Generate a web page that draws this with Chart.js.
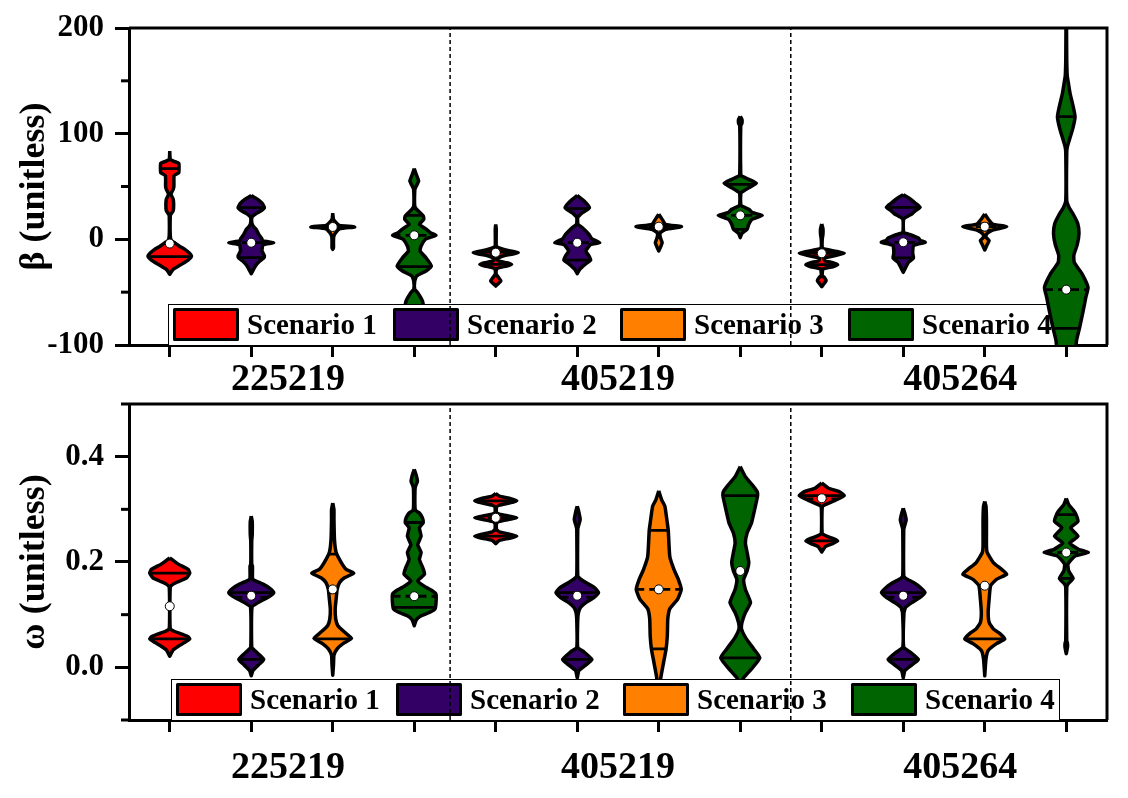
<!DOCTYPE html>
<html>
<head>
<meta charset="utf-8">
<script src="https://cdn.jsdelivr.net/npm/chart.js@4.4.0/dist/chart.umd.min.js"></script>
<style>
html,body{margin:0;padding:0;background:#fff;}
#wrap{position:relative;width:1128px;height:798px;background:#fff;}
canvas{position:absolute;left:0;display:block;}
</style>
</head>
<body>
<div id="wrap">
<canvas id="betaChart" width="1128" height="399" style="top:0;width:1128px;height:399px"></canvas>
<canvas id="omegaChart" width="1128" height="399" style="top:399px;width:1128px;height:399px"></canvas>
</div>
<script>
// ---------------- DATA ----------------
const CATEGORIES = ['225219', '405219', '405264'];
const SCENARIOS = ['Scenario 1', 'Scenario 2', 'Scenario 3', 'Scenario 4'];
const CATEGORY_LABEL_AT = [2.45, 6.5, 10.7];   // x-axis value of each group label
const SEPARATORS_AT = [4.44, 8.62];           // x-axis value of dashed group separators

const BETA_MAJOR_TICKS = [-100, 0, 100, 200];
const BETA_MINOR_TICKS = [-50, 50, 150];
const OMEGA_MAJOR_TICKS = [0.0, 0.2, 0.4];
const OMEGA_MINOR_TICKS = [-0.1, 0.1, 0.3, 0.5];

// Violin density profiles: [value, relative density], top -> bottom; one profile per category
const BETA_S1 = [
  [[83.5,0],[76,0.02],[74,0.15],[72,0.37],[67,0.38],[63,0.37],[60.4,0.18],[50,0.17],[47.3,0.14],[42.6,0.05],[38,0.14],[33,0.16],[27,0.14],[23.5,0.04],[22,0.02],[4,0.02],[-1,0.06],[-3.2,0.2],[-6.5,0.4],[-9.5,0.62],[-13,0.8],[-16,0.89],[-19.6,0.75],[-23.7,0.47],[-28.4,0.14],[-33,0]],
  [[14.2,0],[10,0.02],[-6.3,0.02],[-7.9,0.1],[-10.1,0.4],[-11.4,0.7],[-12.6,0.92],[-13.9,0.7],[-15.1,0.4],[-17,0.15],[-18.9,0.05],[-20.5,0.12],[-22.2,0.45],[-23.7,0.65],[-25.2,0.45],[-27,0.12],[-28.4,0.03],[-33.1,0.02],[-36.3,0.12],[-39.4,0.21],[-42,0.1],[-44.2,0]],
  [[14.5,0],[10,0.05],[5,0.05],[0,0.02],[-7.6,0.02],[-9.1,0.1],[-11.4,0.6],[-13.2,0.92],[-15.1,0.6],[-17.6,0.1],[-20.2,0.12],[-22.1,0.45],[-24,0.65],[-25.9,0.45],[-28.1,0.05],[-34.4,0.02],[-36,0.1],[-39.1,0.18],[-42.3,0.08],[-44.8,0]]
];
const BETA_S2 = [
  [[41.6,0],[38,0.25],[34,0.45],[30,0.54],[27,0.4],[24.6,0.21],[21,0.03],[15,0.03],[12,0.1],[9.5,0.2],[5,0.3],[1,0.42],[-1.5,0.48],[-3.2,0.92],[-5,0.48],[-8,0.45],[-11,0.44],[-15.8,0.54],[-18,0.5],[-20.5,0.35],[-25.2,0.17],[-32.5,0]],
  [[41.6,0],[36.3,0.28],[30,0.5],[25.2,0.21],[20.5,0.02],[14.2,0.03],[11,0.21],[4.7,0.48],[0.5,0.6],[-3.2,0.92],[-5,0.55],[-11,0.35],[-15.8,0.48],[-19.6,0.55],[-23.7,0.32],[-28.4,0.1],[-32.5,0]],
  [[42.3,0],[38.2,0.28],[34.1,0.5],[30.3,0.69],[27.1,0.5],[24,0.35],[19.2,0.02],[6.6,0.02],[5,0.21],[1.2,0.62],[-1,0.7],[-2.8,0.9],[-4.5,0.6],[-6,0.42],[-10.1,0.39],[-13.9,0.39],[-17.6,0.42],[-21.8,0.21],[-26.5,0.1],[-31.2,0]]
];
const BETA_S3 = [
  [[24.6,0],[19,0.03],[15.8,0.14],[13.2,0.28],[11.7,0.9],[10.1,0.3],[6.3,0.12],[2.5,0.04],[-2,0.03],[-8,0.03],[-9.5,0]],
  [[23.7,0],[18.9,0.14],[14.2,0.28],[12,0.93],[9.5,0.28],[6.3,0.07],[3.2,0.05],[-0.6,0.1],[-3.2,0.14],[-6.9,0.08],[-11,0]],
  [[24,0],[19.2,0.14],[14.5,0.32],[12,0.9],[8.8,0.32],[5,0.07],[1.9,0.05],[-1.2,0.18],[-5,0.1],[-10.1,0]]
];
const BETA_S4 = [
  [[66.9,0],[61.5,0.08],[55.2,0.18],[48.9,0.05],[46,0.02],[31.5,0.02],[28.4,0.1],[22.1,0.37],[18.9,0.39],[14.2,0.21],[9.5,0.5],[6,0.68],[3.8,0.89],[1.5,0.6],[0,0.45],[-6.3,0.28],[-11,0.24],[-17.4,0.48],[-25.2,0.7],[-30,0.48],[-34.7,0.1],[-39.4,0.02],[-47.3,0.02],[-50.5,0.14],[-58,0.33],[-64,0.38],[-70,0.25],[-78,0]],
  [[116.4,0],[113.5,0.07],[110,0.07],[107.2,0.02],[61.5,0.02],[59.9,0.06],[56.8,0.35],[53,0.66],[48.9,0.35],[44.8,0.07],[42.6,0.02],[33.1,0.02],[31.5,0.06],[28.4,0.35],[25.2,0.5],[22.7,0.9],[18.9,0.48],[14.2,0.35],[9.5,0.28],[5.7,0.07],[1.6,0]],
  [[215,0],[205,0.01],[169,0.02],[160,0.03],[155,0.04],[151.7,0.06],[137.6,0.16],[126,0.28],[116.1,0.36],[106,0.28],[96.5,0.16],[88,0.05],[82.3,0.02],[36.6,0.02],[30,0.12],[24,0.28],[15,0.47],[5,0.52],[-5,0.45],[-15,0.31],[-22,0.33],[-32.8,0.65],[-45.4,0.89],[-55,0.8],[-68,0.69],[-84.2,0.54],[-95.8,0.42],[-110,0.35],[-125,0]]
];
// Box statistics, ordered category by category, scenario 1..4
const BETA_Q3     = [67, 30, 13.2, 22.7, -12, 29, 14, 52, -12.6, 30.3, 14.5, 116.1];
const BETA_Q1     = [-16.4, -17.4, 10.1, -25.8, -23.7, -19.6, 9.5, 9.5, -24, -17.6, 8.8, -84.2];
const BETA_MEDIAN = [-4, -3.2, 11.7, 3.8, -13.5, -3.2, 12, 22.7, -13.2, -2.8, 12, -47.6];
const BETA_MEAN   = [-4, -3.2, 11.7, 3.8, -12.6, -3.2, 12, 22.7, -13.2, -2.8, 12, -47.6];

const OMEGA_S1 = [
  [[0.208,0],[0.196,0.35],[0.186,0.75],[0.179,0.82],[0.17,0.69],[0.164,0.42],[0.158,0.14],[0.152,0.02],[0.073,0.02],[0.068,0.2],[0.063,0.5],[0.058,0.75],[0.054,0.82],[0.047,0.6],[0.04,0.35],[0.033,0.14],[0.021,0]],
  [[0.33,0],[0.325,0.15],[0.321,0.55],[0.316,0.86],[0.312,0.55],[0.308,0.15],[0.304,0.03],[0.294,0.03],[0.291,0.15],[0.287,0.55],[0.284,0.86],[0.281,0.55],[0.277,0.15],[0.273,0.03],[0.262,0.03],[0.257,0.15],[0.253,0.55],[0.249,0.86],[0.245,0.55],[0.241,0.15],[0.235,0]],
  [[0.35,0],[0.34,0.28],[0.334,0.69],[0.326,0.92],[0.317,0.55],[0.309,0.14],[0.304,0.02],[0.254,0.02],[0.249,0.2],[0.244,0.5],[0.24,0.65],[0.235,0.45],[0.229,0.15],[0.219,0]]
];
const OMEGA_S2 = [
  [[0.287,0],[0.277,0.04],[0.252,0.04],[0.24,0.02],[0.196,0.02],[0.192,0.05],[0.17,0.05],[0.166,0.1],[0.158,0.48],[0.15,0.76],[0.142,0.92],[0.133,0.69],[0.123,0.28],[0.114,0.03],[0.038,0.02],[0.034,0.1],[0.026,0.28],[0.015,0.51],[0.007,0.35],[-0.006,0.07],[-0.016,0]],
  [[0.306,0],[0.296,0.06],[0.281,0.12],[0.267,0.04],[0.262,0.02],[0.174,0.02],[0.169,0.1],[0.161,0.35],[0.152,0.69],[0.142,0.87],[0.133,0.69],[0.123,0.35],[0.114,0.14],[0.104,0.05],[0.09,0.02],[0.038,0.02],[0.029,0.28],[0.015,0.6],[0.007,0.42],[-0.006,0.07],[-0.02,0]],
  [[0.302,0],[0.293,0.06],[0.28,0.12],[0.266,0.04],[0.262,0.02],[0.174,0.02],[0.169,0.1],[0.161,0.42],[0.152,0.69],[0.142,0.89],[0.133,0.69],[0.123,0.35],[0.114,0.1],[0.104,0.03],[0.038,0.02],[0.029,0.28],[0.015,0.62],[0.007,0.42],[-0.006,0.07],[-0.02,0]]
];
const OMEGA_S3 = [
  [[0.312,0],[0.299,0.05],[0.281,0.05],[0.243,0.07],[0.218,0.14],[0.199,0.35],[0.186,0.55],[0.179,0.86],[0.17,0.48],[0.161,0.28],[0.148,0.18],[0.13,0.14],[0.111,0.1],[0.092,0.12],[0.079,0.21],[0.067,0.48],[0.055,0.77],[0.045,0.42],[0.035,0.18],[0.023,0.05],[0.004,0.03],[-0.015,0]],
  [[0.335,0],[0.318,0.12],[0.306,0.25],[0.274,0.35],[0.26,0.39],[0.211,0.45],[0.186,0.62],[0.167,0.8],[0.148,0.92],[0.13,0.78],[0.111,0.45],[0.092,0.37],[0.06,0.35],[0.035,0.3],[0.01,0.2],[-0.015,0.1],[-0.03,0.05],[-0.045,0]],
  [[0.315,0],[0.306,0.05],[0.281,0.07],[0.23,0.07],[0.218,0.1],[0.199,0.35],[0.186,0.69],[0.177,0.9],[0.167,0.48],[0.155,0.24],[0.13,0.18],[0.104,0.14],[0.085,0.18],[0.073,0.35],[0.064,0.62],[0.054,0.82],[0.045,0.48],[0.032,0.14],[0.016,0.05],[-0.016,0]]
];
const OMEGA_S4 = [
  [[0.376,0],[0.365,0.08],[0.353,0.13],[0.345,0.06],[0.337,0.03],[0.299,0.04],[0.293,0.21],[0.284,0.33],[0.275,0.37],[0.265,0.21],[0.249,0.28],[0.233,0.14],[0.218,0.28],[0.205,0.21],[0.189,0.35],[0.177,0.42],[0.164,0.14],[0.152,0.48],[0.145,0.75],[0.139,0.89],[0.123,0.89],[0.111,0.85],[0.104,0.62],[0.097,0.25],[0.09,0.08],[0.079,0]],
  [[0.381,0],[0.362,0.21],[0.347,0.48],[0.334,0.69],[0.326,0.71],[0.306,0.62],[0.274,0.46],[0.255,0.28],[0.236,0.21],[0.218,0.28],[0.199,0.35],[0.183,0.28],[0.167,0.14],[0.148,0.21],[0.123,0.42],[0.104,0.21],[0.085,0.07],[0.073,0.05],[0.057,0.21],[0.035,0.55],[0.018,0.8],[-0.002,0.48],[-0.02,0.14],[-0.034,0]],
  [[0.321,0],[0.309,0.1],[0.299,0.28],[0.29,0.4],[0.277,0.48],[0.265,0.18],[0.249,0.48],[0.236,0.14],[0.224,0.5],[0.218,0.9],[0.211,0.35],[0.196,0.07],[0.183,0.1],[0.169,0.28],[0.158,0.07],[0.151,0.02],[0.051,0.02],[0.045,0.05],[0.038,0.05],[0.026,0]]
];
const OMEGA_Q3     = [0.179, 0.142, 0.215, 0.275, 0.316, 0.142, 0.26, 0.326, 0.326, 0.142, 0.23, 0.29];
const OMEGA_Q1     = [0.054, 0.015, 0.054, 0.114, 0.249, 0.015, 0.035, 0.018, 0.24, 0.015, 0.054, 0.169];
const OMEGA_MEDIAN = [0.116, 0.133, 0.148, 0.135, 0.284, 0.133, 0.148, 0.183, 0.32, 0.133, 0.155, 0.218];
const OMEGA_MEAN   = [0.116, 0.136, 0.148, 0.135, 0.284, 0.136, 0.148, 0.183, 0.321, 0.136, 0.155, 0.218];

// ---------------- STYLE ----------------
const COLORS = ['#FF0000', '#330066', '#FF8000', '#006400'];
const HALF = 0.3;          // max violin half-width, in x-axis units
const FONT = 'Liberation Serif';

// ---------------- HELPERS ----------------
function violinPoints(cx, prof) {
  const right = prof.map(([v, w]) => ({x: cx + w * HALF, y: v}));
  const left = prof.slice().reverse().map(([v, w]) => ({x: cx - w * HALF, y: v}));
  const pts = right.concat(left);
  pts.push({x: pts[0].x, y: pts[0].y});
  return pts;
}
function widthAt(prof, q) {
  for (let i = 0; i < prof.length - 1; i++) {
    const [v1, w1] = prof[i], [v2, w2] = prof[i + 1];
    if (q <= v1 && q >= v2) {
      const t = v1 === v2 ? 0 : (v1 - q) / (v1 - v2);
      return w1 + (w2 - w1) * t;
    }
  }
  return 0;
}

function drawLegend(chart, o) {
  const {ctx, chartArea: a} = chart;
  const top = a.bottom - o.height;
  ctx.save();
  ctx.fillStyle = '#fff';
  ctx.fillRect(o.left, top, o.right - o.left, o.height);
  ctx.strokeStyle = '#000';
  ctx.lineWidth = 1;
  ctx.strokeRect(o.left + 0.5, top + 0.5, o.right - o.left - 1, o.height);
  ctx.font = 'bold 29px "' + FONT + '"';
  ctx.textBaseline = 'alphabetic';
  ctx.textAlign = 'left';
  ctx.lineJoin = 'round';
  SCENARIOS.forEach((label, i) => {
    const sx = o.swatchX[i];
    ctx.fillStyle = COLORS[i];
    ctx.beginPath();
    ctx.rect(sx + 1.5, top + 5.5, 63, 30);
    ctx.fill();
    ctx.lineWidth = 3;
    ctx.strokeStyle = '#000';
    ctx.stroke();
    ctx.fillStyle = '#000';
    ctx.fillText(label, sx + 74, top + 29.5);
  });
  ctx.restore();
}

const panelDecor = {
  id: 'panelDecor',
  afterDatasetDraw(chart, args, opts) {
    if (args.index === opts.legendAfter) drawLegend(chart, opts.legend);
  },
  afterDraw(chart, args, opts) {
    const {ctx, chartArea: a} = chart;
    const y = chart.scales.y;
    ctx.save();
    ctx.strokeStyle = '#000';
    ctx.lineWidth = 3;
    ctx.beginPath();
    ctx.moveTo(a.left, a.top);
    ctx.lineTo(a.right, a.top);
    ctx.lineTo(a.right, a.bottom);
    ctx.stroke();
    opts.minor.forEach(v => {
      const py = y.getPixelForValue(v);
      ctx.beginPath();
      ctx.moveTo(a.left - 8, py);
      ctx.lineTo(a.left, py);
      ctx.stroke();
    });
    ctx.restore();
  }
};

function buildPanel(canvasId, cfg) {
  const datasets = [];
  for (let c = 0; c < CATEGORIES.length; c++) {
    for (let s = 0; s < SCENARIOS.length; s++) {
      const i = c * 4 + s;
      datasets.push({
        label: SCENARIOS[s] + ' ' + CATEGORIES[c],
        data: violinPoints(i + 1, cfg.profiles[s][c]),
        showLine: true, fill: 'shape',
        backgroundColor: COLORS[s], borderColor: '#000', borderWidth: 3.5,
        borderJoinStyle: 'round', pointRadius: 0, tension: 0.15,
        order: 200 - i
      });
    }
  }
  const qData = [], mData = [], dots = [];
  for (let i = 0; i < 12; i++) {
    const prof = cfg.profiles[i % 4][Math.floor(i / 4)];
    const x = i + 1;
    [cfg.q1[i], cfg.q3[i]].forEach(q => {
      const w = widthAt(prof, q) * HALF;
      qData.push({x: x - w, y: q}, {x: x + w, y: q}, {x: null, y: null});
    });
    const m = cfg.median[i];
    const wm = widthAt(prof, m) * HALF;
    mData.push({x: x - wm, y: m}, {x: x + wm, y: m}, {x: null, y: null});
    dots.push({x: x, y: cfg.mean[i]});
  }
  datasets.push({label: 'quartiles', data: qData, showLine: true, borderColor: '#000', borderWidth: 2.8, pointRadius: 0, tension: 0, fill: false, order: 50});
  datasets.push({label: 'median', data: mData, showLine: true, borderColor: '#000', borderWidth: 2.8, borderDash: [8, 5], pointRadius: 0, tension: 0, fill: false, order: 40});
  const sep = [];
  SEPARATORS_AT.forEach(sx => sep.push({x: sx, y: cfg.min}, {x: sx, y: cfg.max}, {x: null, y: null}));
  datasets.push({label: 'separators', data: sep, showLine: true, borderColor: '#000', borderWidth: 1.5, borderDash: [4, 3], pointRadius: 0, fill: false, order: 30});
  datasets.push({label: 'mean', data: dots, showLine: false, pointRadius: 4.5, pointBackgroundColor: '#fff', pointBorderColor: '#000', pointBorderWidth: 1, order: 10});

  return new Chart(document.getElementById(canvasId), {
    type: 'scatter',
    data: {datasets},
    plugins: [panelDecor],
    options: {
      responsive: false, animation: false, events: [],
      layout: {autoPadding: false, padding: {top: cfg.padTop, right: 21, bottom: 0, left: 0}},
      plugins: {
        legend: {display: false}, tooltip: {enabled: false},
        panelDecor: {minor: cfg.minor, legendAfter: cfg.legendAfter, legend: cfg.legend}
      },
      scales: {
        x: {
          type: 'linear', position: 'bottom', min: 0.5, max: 12.5, weight: 0,
          afterBuildTicks: s => { s.ticks = CATEGORIES.flatMap((c, ci) => SCENARIOS.map((_, si) => ({value: ci * 4 + si + 1}))); },
          afterFit: s => { s.height = 12; s.paddingLeft = 0; s.paddingRight = 0; },
          ticks: {display: false},
          grid: {drawOnChartArea: false, drawTicks: true, tickLength: 12, tickWidth: 3, tickColor: '#000', color: '#000'},
          border: {display: true, color: '#000', width: 3}
        },
        xg: {
          type: 'linear', position: 'bottom', min: 0.5, max: 12.5, weight: 1,
          afterBuildTicks: s => { s.ticks = CATEGORY_LABEL_AT.map(v => ({value: v})); },
          afterFit: s => { s.height = cfg.labelAxisHeight; s.paddingLeft = 0; s.paddingRight = 0; },
          ticks: {autoSkip: false, maxRotation: 0, padding: cfg.labelPad, color: '#000',
                  font: {family: FONT, size: 38, weight: 'bold'},
                  callback: (v, i) => CATEGORIES[i]},
          grid: {display: false, drawTicks: false},
          border: {display: false}
        },
        y: {
          type: 'linear', position: 'left', min: cfg.min, max: cfg.max,
          afterBuildTicks: s => { s.ticks = cfg.major.map(v => ({value: v})); },
          afterFit: s => { s.width = 129; s.paddingTop = 0; s.paddingBottom = 0; },
          ticks: {padding: 11, color: '#000', font: {family: FONT, size: 31, weight: 'bold'}, callback: cfg.fmt},
          grid: {drawOnChartArea: false, drawTicks: true, tickLength: 14, tickWidth: 3, tickColor: '#000', color: '#000'},
          border: {display: true, color: '#000', width: 3},
          title: {display: true, text: cfg.title, color: '#000', padding: {top: 13, bottom: 0},
                  font: {family: FONT, size: 36, weight: 'bold'}}
        }
      }
    }
  });
}

buildPanel('betaChart', {
  profiles: [BETA_S1, BETA_S2, BETA_S3, BETA_S4],
  q1: BETA_Q1, q3: BETA_Q3, median: BETA_MEDIAN, mean: BETA_MEAN,
  min: -100, max: 200, major: BETA_MAJOR_TICKS, minor: BETA_MINOR_TICKS,
  fmt: v => String(v), title: 'β (unitless)',
  padTop: 28, labelAxisHeight: 42, labelPad: 0,
  legendAfter: 10,
  legend: {left: 168, right: 1057, height: 41, swatchX: [173, 393, 620, 848]}
});
buildPanel('omegaChart', {
  profiles: [OMEGA_S1, OMEGA_S2, OMEGA_S3, OMEGA_S4],
  q1: OMEGA_Q1, q3: OMEGA_Q3, median: OMEGA_MEDIAN, mean: OMEGA_MEAN,
  min: -0.1, max: 0.5, major: OMEGA_MAJOR_TICKS, minor: OMEGA_MINOR_TICKS,
  fmt: v => v.toFixed(1), title: 'ω (unitless)',
  padTop: 5, labelAxisHeight: 66, labelPad: 13,
  legendAfter: 11,
  legend: {left: 171, right: 1060, height: 41, swatchX: [176, 396, 623, 851]}
});
</script>
</body>
</html>
